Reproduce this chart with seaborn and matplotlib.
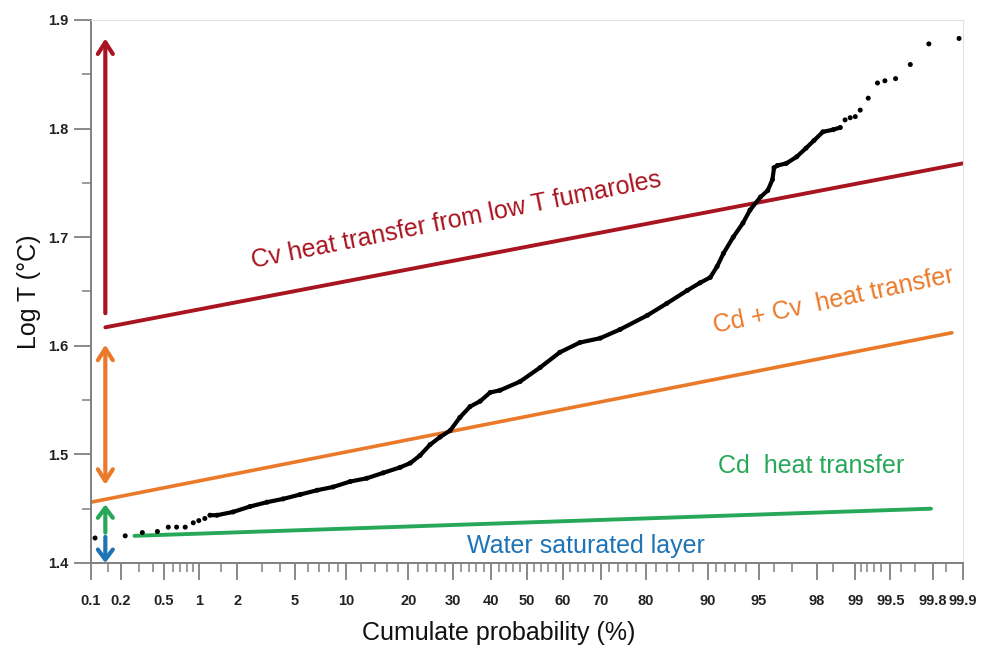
import numpy as np
import matplotlib
matplotlib.use("Agg")
import matplotlib.pyplot as plt
import seaborn as sns
import pandas as pd
from statistics import NormalDist
from matplotlib.ticker import FixedLocator, NullFormatter

# ---------------- data ----------------
prob = [0.11, 0.22, 0.32, 0.44, 0.55, 0.65, 0.77, 0.9, 1.0, 1.12, 1.23, 1.4,
        1.86, 2.48, 3.27, 4.19, 5.38, 6.84, 8.46, 10.5, 12.8, 15.4, 18.4, 20.4,
        22.4, 24.6, 26.9, 29.3, 31.7, 34.3, 37.0, 39.7, 42.4, 48.0, 53.7, 59.2,
        64.6, 69.8, 74.5, 80.3, 83.9, 87.2, 89.0, 90.3, 91.1, 91.8, 92.8, 93.7,
        94.3, 95.1, 95.6, 95.9, 96.0, 96.2, 96.7, 97.2, 97.6, 97.9, 98.2, 98.5,
        98.68, 98.79, 98.9, 99.0, 99.09, 99.22, 99.35, 99.44, 99.55, 99.67,
        99.78, 99.89]
logt = [1.423, 1.425, 1.428, 1.429, 1.433, 1.433, 1.433, 1.437, 1.439, 1.441, 1.444, 1.444,
        1.447, 1.452, 1.456, 1.459, 1.463, 1.467, 1.470, 1.475, 1.478, 1.483, 1.488, 1.492,
        1.499, 1.509, 1.516, 1.522, 1.534, 1.544, 1.549, 1.557, 1.559, 1.567, 1.580, 1.594,
        1.603, 1.607, 1.615, 1.628, 1.639, 1.651, 1.658, 1.663, 1.673, 1.685, 1.700, 1.713,
        1.725, 1.737, 1.743, 1.753, 1.764, 1.766, 1.768, 1.774, 1.782, 1.789, 1.797, 1.799,
        1.801, 1.808, 1.810, 1.811, 1.817, 1.828, 1.842, 1.844, 1.846, 1.859,
        1.878, 1.883]
dense_start, dense_end = 10, 60   # continuous part of the curve

red_x, red_y = [0.14, 99.9], [1.617, 1.768]
orange_x, orange_y = [0.1, 99.87], [1.456, 1.612]
green_x, green_y = [0.27, 99.79], [1.425, 1.450]

arrow_x = 0.14
red_arrow = (1.630, 1.883)
orange_arrow = (1.601, 1.472)
green_arrow = (1.428, 1.454)
blue_arrow = (1.424, 1.400)

major_ticks = [0.1, 0.2, 0.5, 1, 2, 5, 10, 20, 30, 40, 50, 60, 70, 80, 90, 95,
               98, 99, 99.5, 99.8, 99.9]
major_labels = ["0.1", "0.2", "0.5", "1", "2", "5", "10", "20", "30", "40", "50",
                "60", "70", "80", "90", "95", "98", "99", "99.5", "99.8", "99.9"]
minor_ticks = [0.15, 0.3, 0.4, 0.6, 0.7, 0.8, 0.9, 1.5, 3, 4, 6, 7, 8, 9,
               12, 14, 16, 18, 22, 24, 26, 28, 32, 34, 36, 38, 42, 44, 46, 48,
               52, 54, 56, 58, 62, 64, 66, 68, 72, 74, 76, 78, 82, 84, 86, 88,
               91, 92, 93, 94, 96, 97, 98.5, 99.1, 99.2, 99.3, 99.4, 99.6, 99.7, 99.85]
y_major = [1.4, 1.5, 1.6, 1.7, 1.8, 1.9]
y_minor = [1.45, 1.55, 1.65, 1.75, 1.85]

RED = "#a8141f"
ORANGE = "#ea7a2a"
GREEN = "#27a858"
BLUE = "#1f74b6"

# ---------------- style ----------------
sns.set_theme(style="white")
plt.rcParams["font.family"] = ["Liberation Sans", "DejaVu Sans"]

_nd = NormalDist()


def fwd(p):
    p = np.clip(np.asarray(p, dtype=float), 1e-4, 100 - 1e-4)
    return np.vectorize(lambda v: _nd.inv_cdf(v / 100.0), otypes=[float])(p)


def inv(z):
    z = np.asarray(z, dtype=float)
    return np.vectorize(lambda v: _nd.cdf(v) * 100.0, otypes=[float])(z)


fig = plt.figure(figsize=(9.83, 6.51), dpi=100)
ax = fig.add_axes([0.0926, 0.1352, 0.8871, 0.8341])
ax.set_xscale("function", functions=(fwd, inv))
ax.set_xlim(0.1, 99.9)
ax.set_ylim(1.4, 1.9)

df = pd.DataFrame({"p": prob, "t": logt})
dense = df.iloc[dense_start:dense_end + 1]

# model lines
sns.lineplot(x=red_x, y=red_y, ax=ax, color=RED, lw=2.8, sort=False)
sns.lineplot(x=orange_x, y=orange_y, ax=ax, color=ORANGE, lw=2.6, sort=False)
sns.lineplot(x=green_x, y=green_y, ax=ax, color=GREEN, lw=2.8, sort=False)

# data
sns.lineplot(data=dense, x="p", y="t", ax=ax, color="black", lw=3.0, sort=False)
sns.scatterplot(data=df, x="p", y="t", ax=ax, color="black", s=13, edgecolor="none", zorder=5)

# arrows
def arrow(y0, y1, color, style):
    ax.annotate("", xy=(arrow_x, y1), xytext=(arrow_x, y0),
                arrowprops=dict(arrowstyle=style, color=color, lw=3.0,
                                shrinkA=0, shrinkB=0))

arrow(*red_arrow, RED, "->,head_length=0.7,head_width=0.45")
arrow(*orange_arrow, ORANGE, "<->,head_length=0.7,head_width=0.45")
arrow(*green_arrow, GREEN, "->,head_length=0.6,head_width=0.45")
arrow(*blue_arrow, BLUE, "->,head_length=0.6,head_width=0.45")

# texts
FS = 18
ax.text(30.7, 1.716, "Cv heat transfer from low T fumaroles", color=RED, fontsize=FS,
        rotation=11.3, ha="center", va="center", rotation_mode="anchor")
ax.text(98.5, 1.642, "Cd + Cv  heat transfer", color=ORANGE, fontsize=FS,
        rotation=12, ha="center", va="center", rotation_mode="anchor")
ax.text(97.8, 1.489, "Cd  heat transfer", color=GREEN, fontsize=FS,
        ha="center", va="center")
ax.text(66.2, 1.4155, "Water saturated layer", color=BLUE, fontsize=FS,
        ha="center", va="center")

# axes styling
ax.xaxis.set_major_locator(FixedLocator(major_ticks))
ax.xaxis.set_minor_locator(FixedLocator(minor_ticks))
ax.set_xticks(major_ticks, major_labels)
ax.xaxis.set_minor_formatter(NullFormatter())
ax.set_yticks(y_major, [f"{v:.1f}" for v in y_major])
ax.yaxis.set_minor_locator(FixedLocator(y_minor))

for sp in ("left", "bottom"):
    ax.spines[sp].set_color("#808080")
    ax.spines[sp].set_linewidth(1.4)
for sp in ("top", "right"):
    ax.spines[sp].set_color("#e2e2e2")
    ax.spines[sp].set_linewidth(0.8)

ax.tick_params(axis="both", which="major", direction="out", length=12, width=1.3,
               color="#808080", labelsize=10.5, labelcolor="#222222")
ax.tick_params(axis="both", which="minor", direction="out", length=6.5, width=1.1,
               color="#808080")
ax.tick_params(axis="x", which="major", pad=10)
ax.tick_params(axis="y", which="major", pad=4)
ax.tick_params(bottom=True, left=True, which="both")
for lab in ax.get_xticklabels() + ax.get_yticklabels():
    lab.set_fontweight("bold")

ax.set_xlabel("Cumulate probability (%)", fontsize=FS, color="#111111")
ax.xaxis.set_label_coords(0.468, -0.106)
ax.set_ylabel("Log T (°C)", fontsize=FS, color="#111111", labelpad=5)
ax.grid(False)

fig.savefig("out.png", dpi=100)
